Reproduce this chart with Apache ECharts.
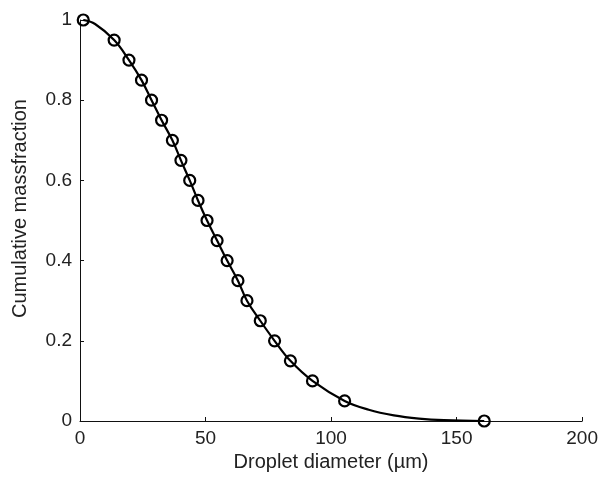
<!DOCTYPE html>
<html>
<head>
<meta charset="utf-8">
<script src="https://cdn.jsdelivr.net/npm/echarts@6/dist/echarts.min.js"></script>
<style>
html,body{margin:0;padding:0;background:#fff;}
#chart{width:601px;height:479px;}
</style>
</head>
<body>
<div id="chart"></div>
<script>
// Measured marker positions: droplet diameter (µm) and cumulative mass fraction
const diameter = [1.3, 13.6, 19.5, 24.5, 28.5, 32.5, 36.8, 40.2, 43.7, 47.0, 50.6, 54.6, 58.6, 62.9, 66.5, 71.8, 77.5, 83.8, 92.6, 105.4, 161.0];
const massFraction = [1, 0.95, 0.9, 0.85, 0.8, 0.75, 0.7, 0.65, 0.6, 0.55, 0.5, 0.45, 0.4, 0.35, 0.3, 0.25, 0.2, 0.15, 0.1, 0.05, 0];
// Fitted curve
const fitX = [1.3, 6, 13.6, 19.5, 24.5, 28.5, 32.5, 36.8, 40.2, 43.7, 47.0, 50.6, 54.6, 58.6, 62.9, 66.5, 71.8, 77.5, 83.8, 92.6, 105.4, 115, 125, 135, 145, 161];
const fitY = [1, 0.99, 0.95, 0.9, 0.85, 0.8, 0.75, 0.7, 0.65, 0.6, 0.55, 0.5, 0.45, 0.4, 0.35, 0.3, 0.25, 0.2, 0.15, 0.1, 0.05, 0.028, 0.014, 0.006, 0.002, 0];
const xTicks = [0, 50, 100, 150, 200];
const yTicks = [0, 0.2, 0.4, 0.6, 0.8, 1];

const chart = echarts.init(document.getElementById('chart'), null, {renderer: 'canvas'});
const font = 'Liberation Sans, Arial, sans-serif';
chart.setOption({
  animation: false,
  backgroundColor: '#fff',
  grid: {left: 80, right: 18, top: 20, bottom: 58},
  xAxis: {
    type: 'value', min: xTicks[0], max: xTicks[xTicks.length - 1], interval: 50,
    name: 'Droplet diameter (µm)', nameLocation: 'middle', nameGap: 29,
    nameTextStyle: {color: '#222', fontSize: 20, fontFamily: font},
    axisLine: {show: true, lineStyle: {color: '#111', width: 1}},
    axisTick: {show: true, inside: true, length: 4, lineStyle: {color: '#111'}},
    axisLabel: {color: '#222', fontSize: 19, fontFamily: font, margin: 8},
    splitLine: {show: false}
  },
  yAxis: {
    type: 'value', min: yTicks[0], max: yTicks[yTicks.length - 1], interval: 0.2,
    name: 'Cumulative massfraction', nameLocation: 'middle', nameGap: 50,
    nameTextStyle: {color: '#222', fontSize: 20, fontFamily: font, padding: [0, 0, 0, 24]},
    axisLine: {show: true, lineStyle: {color: '#111', width: 1}},
    axisTick: {show: true, inside: true, length: 4, lineStyle: {color: '#111'}},
    axisLabel: {color: '#222', fontSize: 19, fontFamily: font, margin: 8,
      formatter: v => String(Math.round(v * 10) / 10)},
    splitLine: {show: false}
  },
  series: [
    {
      type: 'line', smooth: 0.4, showSymbol: false, symbol: 'none',
      data: fitX.map((x, i) => [x, fitY[i]]),
      lineStyle: {color: '#000', width: 2.2}, z: 2
    },
    {
      type: 'line', symbol: 'circle', symbolSize: 11,
      data: diameter.map((x, i) => [x, massFraction[i]]),
      lineStyle: {width: 0, opacity: 0},
      itemStyle: {color: 'rgba(255,255,255,0)', borderColor: '#000', borderWidth: 2.2},
      z: 3
    }
  ]
});
</script>
</body>
</html>
